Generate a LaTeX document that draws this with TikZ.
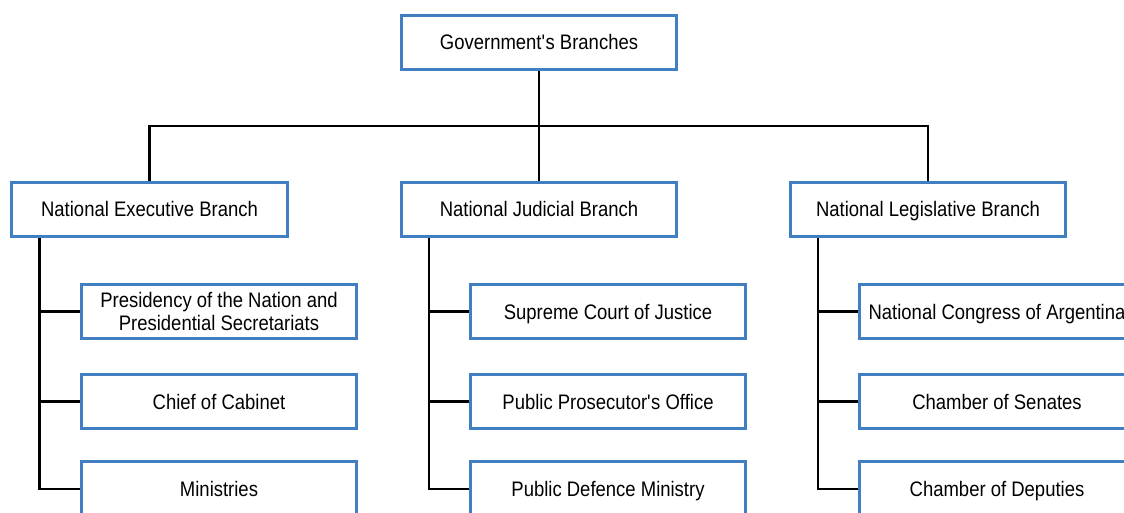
\documentclass[tikz,border=0pt]{standalone}
\usepackage{fontspec}
\setmainfont{Liberation Sans}[FakeStretch=0.88]
\usetikzlibrary{calc}
\definecolor{boxblue}{RGB}{66,126,194}
\begin{document}
\begin{tikzpicture}[x=1pt,y=-1pt,
  orgbox/.style={draw=boxblue, line width=2.6pt, fill=white, rectangle,
    minimum width=275.5pt, minimum height=54.5pt, inner sep=0pt, align=center,
    font=\fontsize{21}{23.5}\selectfont},
  oneline/.style={orgbox, text height=17pt, text depth=2pt},
  link/.style={draw=black, line width=2.2pt}]
  \useasboundingbox (0,0) rectangle (1124,513);
  \clip (0,0) rectangle (1124,513);

  % top level
  \node[oneline] (gov) at (539,42.5) {Government\textquotesingle s Branches};

  % branches
  \node[oneline] (exec) at (149.5,209.5) {National Executive Branch};
  \node[oneline] (jud)  at (539,209.5)   {National Judicial Branch};
  \node[oneline] (leg)  at (928,209.5)   {National Legislative Branch};

  % executive units
  \node[orgbox] (e1) at (219,311.5) {Presidency of the Nation and\\Presidential Secretariats};
  \node[oneline] (e2) at (219,401.5) {Chief of Cabinet};
  \node[oneline] (e3) at (219,489)   {Ministries};

  % judicial units
  \node[oneline] (j1) at (608,311.5) {Supreme Court of Justice};
  \node[oneline] (j2) at (608,401.5) {Public Prosecutor\textquotesingle s Office};
  \node[oneline] (j3) at (608,489)   {Public Defence Ministry};

  % legislative units
  \node[oneline] (l1) at (997,311.5) {National Congress of Argentina};
  \node[oneline] (l2) at (997,401.5) {Chamber of Senates};
  \node[oneline] (l3) at (997,489)   {Chamber of Deputies};

  % bus between the top box and the branches
  \coordinate (bus) at (539,126);
  \draw[link] (gov.south) -- (jud.north);
  \draw[link] (exec.north) -- (exec.north |- bus) -- (leg.north |- bus) -- (leg.north);

  % spines under each branch
  \coordinate (sE) at ($(exec.south west)+(29,0)$);
  \coordinate (sJ) at ($(jud.south west)+(29,0)$);
  \coordinate (sL) at ($(leg.south west)+(29,0)$);

  \draw[link] (sE) |- (e3.west);
  \draw[link] (sE |- e1.west) -- (e1.west);
  \draw[link] (sE |- e2.west) -- (e2.west);

  \draw[link] (sJ) |- (j3.west);
  \draw[link] (sJ |- j1.west) -- (j1.west);
  \draw[link] (sJ |- j2.west) -- (j2.west);

  \draw[link] (sL) |- (l3.west);
  \draw[link] (sL |- l1.west) -- (l1.west);
  \draw[link] (sL |- l2.west) -- (l2.west);
\end{tikzpicture}
\end{document}
